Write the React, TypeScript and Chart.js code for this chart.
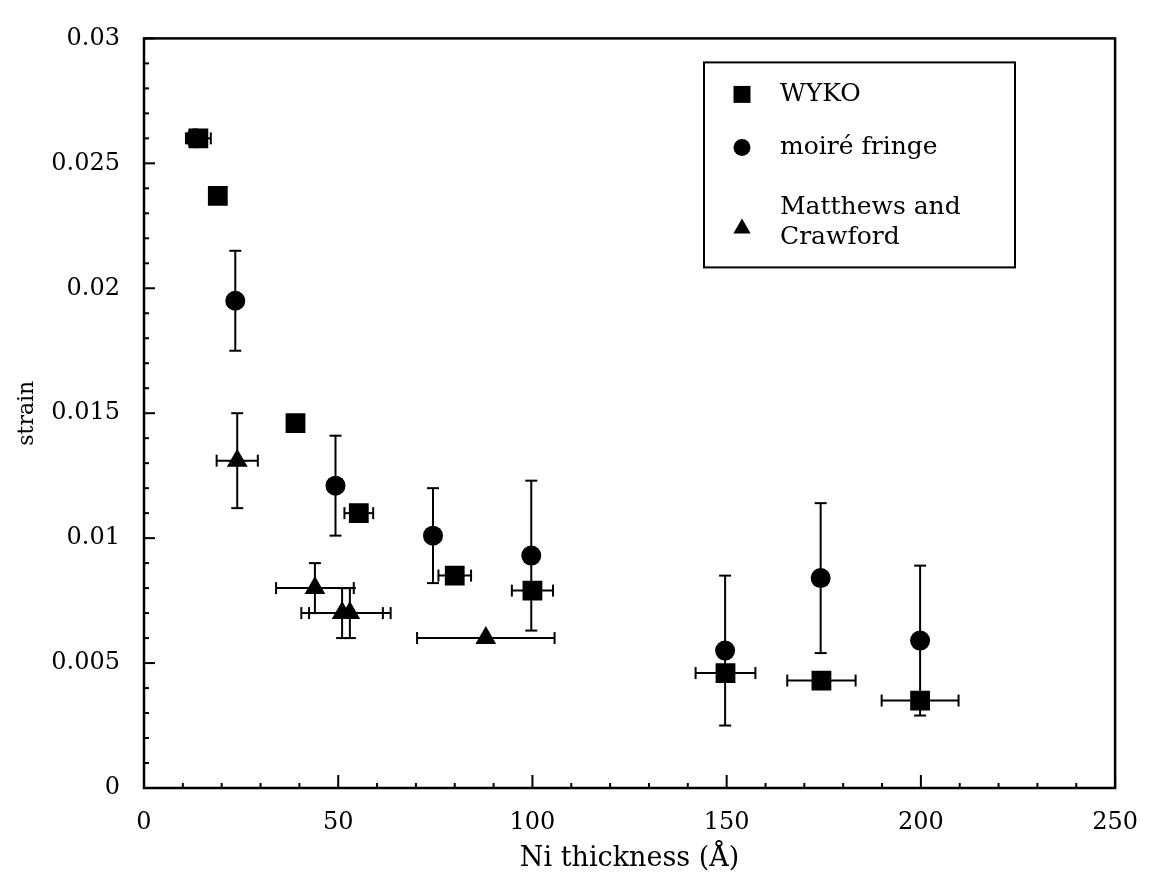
import React, { useEffect, useRef } from 'react';
import { Chart, registerables } from 'chart.js';
import { drawPoint } from 'chart.js/helpers';

Chart.register(...registerables);

// ---- data (Ni thickness in Å, strain) ----
const wykoX = [14, 19, 39, 55.3, 80, 100, 149.7, 174.4, 199.8];
const wykoY = [0.026, 0.0237, 0.0146, 0.011, 0.0085, 0.0079, 0.0046, 0.0043, 0.0035];
const wykoXErr = [3.2, 0, 0, 3.7, 4.2, 5.3, 7.7, 8.8, 9.9];
const wykoYErr = [0, 0, 0, 0, 0, 0, 0, 0, 0];

const moireX = [13.2, 23.5, 49.3, 74.4, 99.7, 149.6, 174.2, 199.8];
const moireY = [0.026, 0.0195, 0.0121, 0.0101, 0.0093, 0.0055, 0.0084, 0.0059];
const moireXErr = [0, 0, 0, 0, 0, 0, 0, 0];
const moireYErr = [0, 0.002, 0.002, 0.0019, 0.003, 0.003, 0.003, 0.003];

const mcX = [24, 44, 51, 53, 88];
const mcY = [0.0131, 0.008, 0.007, 0.007, 0.006];
const mcXErr = [5.3, 10, 10.5, 10.5, 17.7];
const mcYErr = [0.0019, 0.001, 0.001, 0.001, 0];

const seriesLabels = ['WYKO', 'moiré fringe', 'Matthews and Crawford'];
const legendLines = [['WYKO'], ['moiré fringe'], ['Matthews and', 'Crawford']];
const xTickValues = [0, 50, 100, 150, 200, 250];
const yTickValues = [0, 0.005, 0.01, 0.015, 0.02, 0.025, 0.03];
const xMinorStep = 10;
const yMinorStep = 0.001;

const FONT = "'DejaVu Serif', serif";

const toPoints = (xs: number[], ys: number[]) => xs.map((x, i) => ({ x, y: ys[i] }));

const errorBarPlugin = {
  id: 'errorBars',
  beforeDatasetsDraw(chart: any) {
    const { ctx } = chart;
    const xs = chart.scales.x;
    const ys = chart.scales.y;
    ctx.save();
    ctx.strokeStyle = '#000';
    ctx.lineWidth = 2;
    const line = (x1: number, y1: number, x2: number, y2: number) => {
      ctx.beginPath();
      ctx.moveTo(x1, y1);
      ctx.lineTo(x2, y2);
      ctx.stroke();
    };
    chart.data.datasets.forEach((ds: any) => {
      ds.data.forEach((p: any, i: number) => {
        const cx = xs.getPixelForValue(p.x);
        const cy = ys.getPixelForValue(p.y);
        const ex = ds.errX[i];
        const ey = ds.errY[i];
        const cap = 6;
        if (ey > 0) {
          const y1 = ys.getPixelForValue(p.y + ey);
          const y2 = ys.getPixelForValue(p.y - ey);
          line(cx, y1, cx, y2);
          line(cx - cap, y1, cx + cap, y1);
          line(cx - cap, y2, cx + cap, y2);
        }
        if (ex > 0) {
          const x1 = xs.getPixelForValue(p.x - ex);
          const x2 = xs.getPixelForValue(p.x + ex);
          line(x1, cy, x2, cy);
          line(x1, cy - cap, x1, cy + cap);
          line(x2, cy - cap, x2, cy + cap);
        }
      });
    });
    ctx.restore();
  },
};

const framePlugin = {
  id: 'frameTicks',
  afterDraw(chart: any) {
    const { ctx, chartArea: ca } = chart;
    const xs = chart.scales.x;
    const ys = chart.scales.y;
    ctx.save();
    ctx.strokeStyle = '#000';
    ctx.lineWidth = 2.5;
    ctx.strokeRect(ca.left, ca.top, ca.right - ca.left, ca.bottom - ca.top);
    ctx.lineWidth = 2;
    const nX = Math.round((xs.max - xs.min) / xMinorStep);
    for (let k = 0; k <= nX; k++) {
      const v = xs.min + k * xMinorStep;
      const px = xs.getPixelForValue(v);
      const major = xTickValues.some((t) => Math.abs(t - v) < 1e-6);
      const len = major ? 13 : 5;
      ctx.beginPath();
      ctx.moveTo(px, ca.bottom);
      ctx.lineTo(px, ca.bottom - len);
      ctx.stroke();
    }
    const nY = Math.round((ys.max - ys.min) / yMinorStep);
    for (let k = 0; k <= nY; k++) {
      const v = ys.min + k * yMinorStep;
      const py = ys.getPixelForValue(v);
      const major = yTickValues.some((t) => Math.abs(t - v) < 1e-9);
      const len = major ? 11 : 5;
      ctx.beginPath();
      ctx.moveTo(ca.left, py);
      ctx.lineTo(ca.left + len, py);
      ctx.stroke();
    }
    ctx.restore();
  },
};

const legendPlugin = {
  id: 'boxLegend',
  afterDraw(chart: any) {
    const { ctx, chartArea: ca } = chart;
    const bx = ca.left + 560;
    const by = ca.top + 24;
    const bw = 311;
    const bh = 205;
    ctx.save();
    ctx.fillStyle = '#fff';
    ctx.fillRect(bx, by, bw, bh);
    ctx.strokeStyle = '#000';
    ctx.lineWidth = 2;
    ctx.strokeRect(bx, by, bw, bh);
    ctx.font = `25px ${FONT}`;
    ctx.textBaseline = 'middle';
    ctx.textAlign = 'left';
    const rowY = [32, 85, 160];
    const radii = [12, 8.5, 10];
    chart.data.datasets.forEach((ds: any, i: number) => {
      const lines = legendLines[i];
      const my = by + rowY[i] + (ds.pointStyle === 'triangle' ? 6 : 0);
      ctx.fillStyle = '#000';
      drawPoint(ctx, { pointStyle: ds.pointStyle, rotation: 0, radius: radii[i], borderWidth: 0 }, bx + 38, my);
      lines.forEach((t, j) => {
        const off = lines.length > 1 ? (j === 0 ? -15 : 15) : 0;
        ctx.fillText(t, bx + 76, by + rowY[i] + off);
      });
    });
    ctx.restore();
  },
};

export default function App() {
  const ref = useRef<HTMLCanvasElement | null>(null);
  useEffect(() => {
    document.body.style.margin = '0';
    if (!ref.current) return;
    Chart.defaults.font.family = FONT;
    Chart.defaults.color = '#000';
    const chart = new Chart(ref.current, {
      type: 'scatter',
      data: {
        datasets: [
          {
            label: seriesLabels[0],
            data: toPoints(wykoX, wykoY),
            pointStyle: 'rect',
            pointRadius: 14,
            backgroundColor: '#000',
            borderColor: '#000',
            borderWidth: 0,
            errX: wykoXErr,
            errY: wykoYErr,
          } as any,
          {
            label: seriesLabels[1],
            data: toPoints(moireX, moireY),
            pointStyle: 'circle',
            pointRadius: 10,
            backgroundColor: '#000',
            borderColor: '#000',
            borderWidth: 0,
            errX: moireXErr,
            errY: moireYErr,
          } as any,
          {
            label: seriesLabels[2],
            data: toPoints(mcX, mcY),
            pointStyle: 'triangle',
            pointRadius: 12,
            backgroundColor: '#000',
            borderColor: '#000',
            borderWidth: 0,
            errX: mcXErr,
            errY: mcYErr,
          } as any,
        ],
      },
      options: {
        animation: false,
        responsive: false,
        devicePixelRatio: 1,
        layout: { padding: { top: 31, right: 28, left: 0, bottom: 0 } },
        plugins: { legend: { display: false }, tooltip: { enabled: false } },
        scales: {
          x: {
            type: 'linear',
            min: 0,
            max: 250,
            afterBuildTicks: (s: any) => {
              s.ticks = xTickValues.map((v) => ({ value: v }));
            },
            afterFit: (s: any) => {
              s.height = 90;
            },
            grid: { display: false, drawTicks: false },
            border: { display: false },
            ticks: {
              padding: 20,
              color: '#000',
              font: { size: 24, family: FONT },
              callback: (v: any) => String(v),
            },
            title: {
              display: true,
              text: 'Ni thickness (Å)',
              color: '#000',
              font: { size: 27, family: FONT },
              padding: { top: 0, bottom: 3 },
            },
          },
          y: {
            type: 'linear',
            min: 0,
            max: 0.03,
            afterBuildTicks: (s: any) => {
              s.ticks = yTickValues.map((v) => ({ value: v }));
            },
            afterFit: (s: any) => {
              s.width = 144;
            },
            grid: { display: false, drawTicks: false },
            border: { display: false },
            ticks: {
              padding: 24,
              color: '#000',
              font: { size: 24, family: FONT },
              callback: (v: any) => String(Math.round(Number(v) * 1000) / 1000),
            },
            title: {
              display: true,
              text: 'strain',
              color: '#000',
              font: { size: 22, family: FONT },
              padding: { top: 14, bottom: 0 },
            },
          },
        },
      } as any,
      plugins: [errorBarPlugin, framePlugin, legendPlugin],
    });
    return () => chart.destroy();
  }, []);
  return (
    <div style={{ position: 'absolute', left: 0, top: 0, width: 1158, height: 878, background: '#fff' }}>
      <canvas ref={ref} width={1158} height={878} style={{ display: 'block' }} />
    </div>
  );
}
